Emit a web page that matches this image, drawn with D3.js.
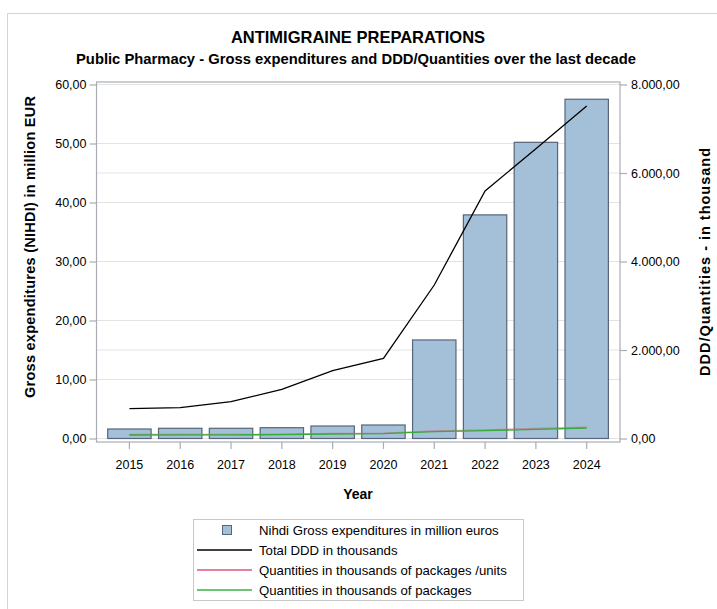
<!DOCTYPE html>
<html>
<head>
<meta charset="utf-8">
<script src="https://cdn.jsdelivr.net/npm/d3@7"></script>
<style>
  body { margin: 0; background: #fff; }
  text { font-family: "Liberation Sans", Arial, sans-serif; }
</style>
</head>
<body>
<script>
// data
var years = ["2015","2016","2017","2018","2019","2020","2021","2022","2023","2024"];
var expenditures = [1.61, 1.73, 1.73, 1.83, 2.12, 2.29, 16.7, 37.9, 50.2, 57.5];   // million EUR
var totalDDD = [673, 696, 832, 1112, 1532, 1812, 3469, 5593, 6550, 7514];          // thousands
var qtyUnits = [88, 88, 90, 95, 112, 120, 168, 192, 224, 252];                      // thousands, red
var qtyPackages = [79, 80, 83, 86, 102, 108, 154, 176, 208, 237];                   // thousands, green
var leftTicks = [0, 10, 20, 30, 40, 50, 60];
var rightTicks = [0, 2000, 4000, 6000, 8000];
var legendLabels = [
  "Nihdi Gross expenditures in million euros",
  "Total DDD in thousands",
  "Quantities in thousands of packages /units",
  "Quantities in thousands of packages"
];

var width = 717, height = 609;
var frame = {left: 96.5, right: 620, top: 82, bottom: 442};
var plotTop = 84.5, plotBottom = 438.5;

var fmt = function(v){
  // 8.000,00 style
  var s = d3.format(",.2f")(v);
  return s.replace(/,/g, "#").replace(".", ",").replace(/#/g, ".");
};

var svg = d3.select("body").append("svg")
  .attr("width", width)
  .attr("height", height);

// outer border
svg.append("rect")
  .attr("x", 7.5).attr("y", 13.5)
  .attr("width", 720).attr("height", 620)
  .attr("fill", "none").attr("stroke", "#d4d4d4");

var x = d3.scaleBand().domain(years)
  .range([frame.left + 7.5, frame.right - 7.9])
  .paddingInner(0.146).paddingOuter(0.073);

var yL = d3.scaleLinear().domain([0, 60]).range([plotBottom, plotTop]);
var yR = d3.scaleLinear().domain([0, 8000]).range([plotBottom, plotTop]);

// grid lines (both axes)
var g = svg.append("g");
leftTicks.forEach(function(t){
  g.append("line").attr("x1", frame.left).attr("x2", frame.right)
    .attr("y1", yL(t)).attr("y2", yL(t))
    .attr("stroke", "#e3e3e3").attr("stroke-width", 1);
});
rightTicks.forEach(function(t){
  g.append("line").attr("x1", frame.left).attr("x2", frame.right)
    .attr("y1", yR(t)).attr("y2", yR(t))
    .attr("stroke", "#e3e3e3").attr("stroke-width", 1);
});

// bars
svg.append("g").selectAll("rect").data(expenditures).enter().append("rect")
  .attr("x", function(d, i){ return x(years[i]); })
  .attr("width", x.bandwidth())
  .attr("y", function(d){ return yL(d); })
  .attr("height", function(d){ return yL(0) - yL(d); })
  .attr("fill", "#a4c0d9")
  .attr("stroke", "#56657a")
  .attr("stroke-width", 1.2);

var lineR = d3.line()
  .x(function(d, i){ return x(years[i]) + x.bandwidth() / 2; })
  .y(function(d){ return yR(d); });

svg.append("path").datum(qtyUnits)
  .attr("d", lineR).attr("fill", "none")
  .attr("stroke", "#c4646e").attr("stroke-opacity", 0.55).attr("stroke-width", 1.5);
svg.append("path").datum(qtyPackages)
  .attr("d", lineR).attr("fill", "none")
  .attr("stroke", "#3aaa3a").attr("stroke-width", 1.3);
svg.append("path").datum(totalDDD)
  .attr("d", lineR).attr("fill", "none")
  .attr("stroke", "#000").attr("stroke-width", 1.3);

// frame
svg.append("rect")
  .attr("x", frame.left).attr("y", frame.top)
  .attr("width", frame.right - frame.left).attr("height", frame.bottom - frame.top)
  .attr("fill", "none").attr("stroke", "#a8adb3").attr("stroke-width", 1.2);

// axes
var axL = svg.append("g").attr("transform", "translate(" + frame.left + ",0)")
  .call(d3.axisLeft(yL).tickValues(leftTicks).tickSize(7).tickPadding(3).tickFormat(fmt));
var axR = svg.append("g").attr("transform", "translate(" + frame.right + ",0)")
  .call(d3.axisRight(yR).tickValues(rightTicks).tickSize(7).tickPadding(4).tickFormat(fmt));
var axB = svg.append("g").attr("transform", "translate(0," + frame.bottom + ")")
  .call(d3.axisBottom(x).tickSize(7).tickPadding(11));

[axL, axR, axB].forEach(function(a){
  a.select(".domain").remove();
  a.selectAll(".tick line").attr("stroke", "#a8adb3").attr("stroke-width", 1.2);
  a.selectAll(".tick text").attr("font-size", 12.5).attr("fill", "#000")
    .attr("font-family", "'Liberation Sans', Arial, sans-serif");
});

// titles
svg.append("text").attr("x", 358).attr("y", 43).attr("text-anchor", "middle")
  .attr("font-size", 16.5).attr("font-weight", "bold")
  .text("ANTIMIGRAINE PREPARATIONS");
svg.append("text").attr("x", 356).attr("y", 64).attr("text-anchor", "middle")
  .attr("font-size", 14.2).attr("font-weight", "bold")
  .attr("textLength", 560).attr("lengthAdjust", "spacingAndGlyphs")
  .text("Public Pharmacy - Gross expenditures and DDD/Quantities over the last decade");

svg.append("text").attr("transform", "translate(35,247) rotate(-90)")
  .attr("text-anchor", "middle").attr("font-size", 14.5).attr("font-weight", "bold")
  .attr("textLength", 302).attr("lengthAdjust", "spacing")
  .text("Gross expenditures (NIHDI) in million EUR");
svg.append("text").attr("transform", "translate(710,262) rotate(-90)")
  .attr("text-anchor", "middle").attr("font-size", 14.5).attr("font-weight", "bold")
  .attr("textLength", 228).attr("lengthAdjust", "spacing")
  .text("DDD/Quantities - in thousand");
svg.append("text").attr("x", 358).attr("y", 499).attr("text-anchor", "middle")
  .attr("font-size", 14).attr("font-weight", "bold")
  .text("Year");

// legend
var lg = svg.append("g");
lg.append("rect").attr("x", 193.5).attr("y", 519.5).attr("width", 330).attr("height", 81)
  .attr("fill", "#fff").attr("stroke", "#c8c8c8");
var legendStyles = [
  {type: "box"},
  {type: "line", color: "#000"},
  {type: "line", color: "#e0557a"},
  {type: "line", color: "#3cb043"}
];
legendLabels.forEach(function(lab, i){
  var cy = 530 + i * 20;
  var s = legendStyles[i];
  if (s.type === "box") {
    lg.append("rect").attr("x", 222.5).attr("y", cy - 4.5).attr("width", 9).attr("height", 9)
      .attr("fill", "#a4c0d9").attr("stroke", "#56657a");
  } else {
    lg.append("line").attr("x1", 197).attr("x2", 252).attr("y1", cy).attr("y2", cy)
      .attr("stroke", s.color).attr("stroke-width", 1.3);
  }
  lg.append("text").attr("x", 259).attr("y", cy + 4.5).attr("font-size", 13.2).text(lab);
});
</script>
</body>
</html>
